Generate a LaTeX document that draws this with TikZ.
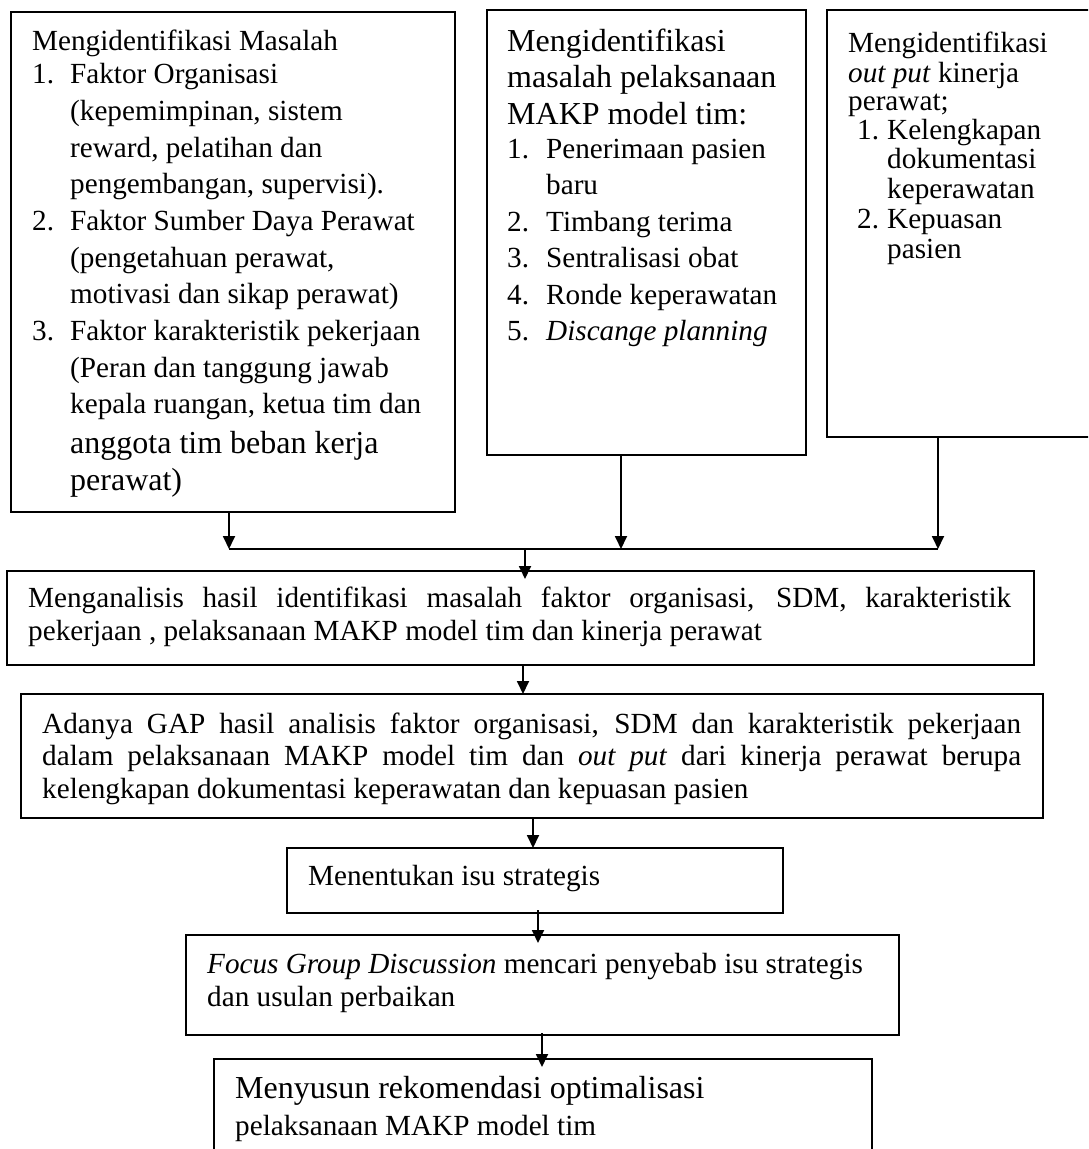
\documentclass[tikz,border=0pt]{standalone}
\usepackage{fontspec}
\setmainfont{Liberation Serif}
\usetikzlibrary{arrows.meta}
\newcommand\fs{\fontsize{29.2}{35}\selectfont}
\newcommand\fb{\fontsize{32}{38}\selectfont}
\newcommand\num[1]{\makebox[38pt][l]{#1}}
\newcommand\numc[1]{\makebox[30pt][l]{#1}}
\tikzset{
  box/.style={draw, line width=1.8pt, inner sep=0pt, outer sep=0pt, anchor=north west},
  ln/.style={anchor=base west, inner sep=0pt, font=\fs},
  lnb/.style={anchor=base west, inner sep=0pt, font=\fb},
  arr/.style={line width=1.8pt, -{Triangle[length=13pt,width=12pt]}},
  wire/.style={line width=1.8pt}
}
\begin{document}
\begin{tikzpicture}[x=1pt,y=-1pt]
\fill[white] (0,0) rectangle (1088,1149);
\useasboundingbox (0,0) rectangle (1088,1149);
\clip (0,0) rectangle (1088,1149);

% boxes
\node[box, minimum width=444pt, minimum height=500pt] (b1) at (11,12) {};
\node[box, minimum width=319pt, minimum height=445pt] (b2) at (487,10) {};
\node[box, minimum width=268pt, minimum height=427pt] (b3) at (827,10) {};
\node[box, minimum width=1027pt, minimum height=94pt] (b4) at (7,571) {};
\node[box, minimum width=1022pt, minimum height=124pt] (b5) at (21,694) {};
\node[box, minimum width=496pt, minimum height=65pt] (b6) at (287,848) {};
\node[box, minimum width=713pt, minimum height=100pt] (b7) at (186,935) {};
\node[box, minimum width=658pt, minimum height=110pt] (b8) at (214,1059) {};

% box 1 text
\node[ln] (b1l1) at (32,50) {Mengidentifikasi Masalah};
\node[ln] (b1l2) at (32,83) {\num{1.}Faktor Organisasi};
\node[ln] (b1l3) at (70,120) {(kepemimpinan, sistem};
\node[ln] (b1l4) at (70,157) {reward, pelatihan dan};
\node[ln] (b1l5) at (70,193) {pengembangan, supervisi).};
\node[ln] (b1l6) at (32,230) {\num{2.}Faktor Sumber Daya Perawat};
\node[ln] (b1l7) at (70,267) {(pengetahuan perawat,};
\node[ln] (b1l8) at (70,303) {motivasi dan sikap perawat)};
\node[ln] (b1l9) at (32,340) {\num{3.}Faktor karakteristik pekerjaan};
\node[ln] (b1l10) at (70,377) {(Peran dan tanggung jawab};
\node[ln] (b1l11) at (70,413) {kepala ruangan, ketua tim dan};
\node[lnb] (b1l12) at (70,453) {anggota tim beban kerja};
\node[lnb] (b1l13) at (70,490) {perawat)};

% box 2 text
\node[lnb] (b2l1) at (507,51) {Mengidentifikasi};
\node[lnb] (b2l2) at (507,87) {masalah pelaksanaan};
\node[lnb] (b2l3) at (507,124) {MAKP model tim:};
\node[ln] (b2l4) at (507,158) {\makebox[39pt][l]{1.}Penerimaan pasien};
\node[ln] (b2l5) at (546,194) {baru};
\node[ln] (b2l6) at (507,231) {\makebox[39pt][l]{2.}Timbang terima};
\node[ln] (b2l7) at (507,267) {\makebox[39pt][l]{3.}Sentralisasi obat};
\node[ln] (b2l8) at (507,304) {\makebox[39pt][l]{4.}Ronde keperawatan};
\node[ln] (b2l9) at (507,340) {\makebox[39pt][l]{5.}\textit{Discange planning}};

% box 3 text
\node[ln] (b3l1) at (848,52) {Mengidentifikasi};
\node[ln] (b3l2) at (848,82) {\textit{out put} kinerja};
\node[ln] (b3l3) at (848,110) {perawat;};
\node[ln] (b3l4) at (857,139) {\numc{1.}Kelengkapan};
\node[ln] (b3l5) at (887,168) {dokumentasi};
\node[ln] (b3l6) at (887,198) {keperawatan};
\node[ln] (b3l7) at (857,228) {\numc{2.}Kepuasan};
\node[ln] (b3l8) at (887,258) {pasien};

% box 4 text
\node[ln] (b4l1) at (28,607) {\makebox[983pt][s]{Menganalisis hasil identifikasi masalah faktor organisasi, SDM, karakteristik}};
\node[ln] (b4l2) at (28,640) {pekerjaan , pelaksanaan MAKP model tim dan kinerja perawat};

% box 5 text
\node[ln] (b5l1) at (42,733) {\makebox[979pt][s]{Adanya GAP hasil analisis faktor organisasi, SDM dan karakteristik pekerjaan}};
\node[ln] (b5l2) at (42,765) {\makebox[979pt][s]{dalam pelaksanaan MAKP model tim dan \textit{out put} dari kinerja perawat berupa}};
\node[ln] (b5l3) at (42,798) {kelengkapan dokumentasi keperawatan dan kepuasan pasien};

% box 6-8 text
\node[ln] (b6l1) at (308,885) {Menentukan isu strategis};
\node[ln] (b7l1) at (207,973) {\textit{Focus Group Discussion} mencari penyebab isu strategis};
\node[ln] (b7l2) at (207,1006) {dan usulan perbaikan};
\node[lnb] (b8l1) at (235,1098) {Menyusun rekomendasi optimalisasi};
\node[ln] (b8l2) at (235,1135) {pelaksanaan MAKP model tim};

% connectors
\coordinate (j1) at (229,549);
\coordinate (j2) at (621,549);
\coordinate (j3) at (938,549);
\coordinate (jc) at (525,549);
\coordinate (x45) at (523,0);
\coordinate (x56) at (533,0);
\coordinate (x67) at (538,0);
\coordinate (x78) at (542,0);

\draw[arr] (b1.south -| j1) -- (j1);
\draw[arr] (b2.south -| j2) -- (j2);
\draw[arr] (b3.south -| j3) -- (j3);
\draw[wire] (j1) -- (j3);
\draw[arr, shorten >=-8pt] (jc) -- (jc |- b4.north);
\draw[arr] (b4.south -| x45) -- (b5.north -| x45);
\draw[arr] (b5.south -| x56) -- (b6.north -| x56);
\draw[arr, shorten <=-3pt, shorten >=-8pt] (b6.south -| x67) -- (b7.north -| x67);
\draw[arr, shorten <=-2pt, shorten >=-8pt] (b7.south -| x78) -- (b8.north -| x78);
\end{tikzpicture}
\end{document}
